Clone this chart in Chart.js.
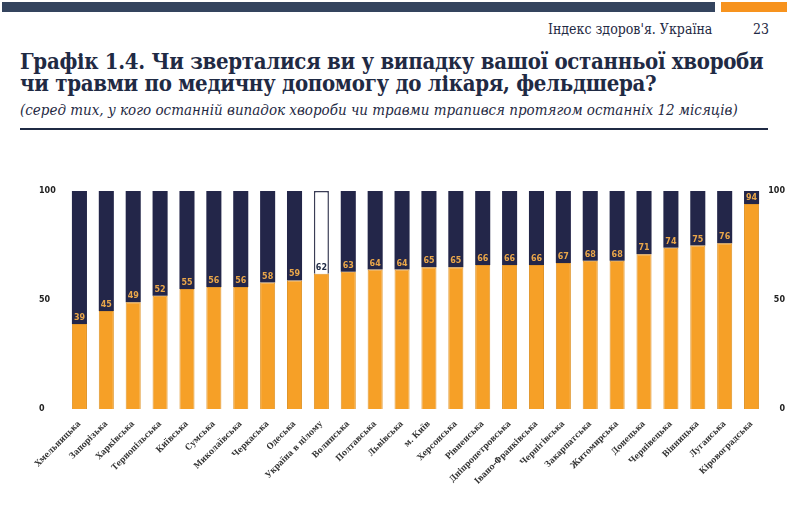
<!DOCTYPE html>
<html lang="uk">
<head>
<meta charset="UTF-8">
<title>Графік 1.4</title>
<script src="https://cdn.jsdelivr.net/npm/chart.js"></script>
<style>
  body { margin: 0; width: 800px; height: 508px; background: #fff; position: relative; overflow: hidden; font-family: "Liberation Serif", serif; }
  .barDark { position: absolute; left: 2px; top: 2px; width: 713px; height: 10px; background: #34445e; }
  .barOrange { position: absolute; left: 721px; top: 2px; width: 66px; height: 10px; background: #f7931e; }
  .hdr { position: absolute; top: 21px; left: 548px; font-size: 14px; color: #1f2a44; font-family: "DejaVu Serif Condensed", "DejaVu Serif", serif; }
  .page { position: absolute; top: 21px; left: 753px; font-size: 14px; color: #1f2a44; font-family: "DejaVu Serif Condensed", "DejaVu Serif", serif; }
  h1 { position: absolute; top: 50px; left: 20px; margin: 0; font-size: 22px; line-height: 22px; color: #1f2a44; font-family: "DejaVu Serif Condensed", "DejaVu Serif", serif; font-weight: bold; letter-spacing: -0.3px; }
  .sub { position: absolute; top: 101px; left: 20px; font-size: 15px; font-style: italic; color: #1f2a44; font-family: "DejaVu Serif Condensed", "DejaVu Serif", serif; }
  .rule { position: absolute; top: 128px; left: 20px; width: 748px; height: 2px; background: #1f2a44; }
  #wrap { position: absolute; left: 0; top: 180px; width: 800px; height: 328px; }
</style>
</head>
<body>
<div class="barDark"></div>
<div class="barOrange"></div>
<div class="hdr">Індекс здоров'я. Україна</div>
<div class="page">23</div>
<h1>Графік 1.4. Чи зверталися ви у випадку вашої останньої хвороби<br>чи травми по медичну допомогу до лікаря, фельдшера?</h1>
<div class="sub">(серед тих, у кого останній випадок хвороби чи травми трапився протягом останніх 12 місяців)</div>
<div class="rule"></div>
<div id="wrap"><canvas id="chart"></canvas></div>

<script>
  let regions = ['Хмельницька', 'Запорізька', 'Харківська', 'Тернопільська', 'Київська', 'Сумська',
    'Миколаївська', 'Черкаська', 'Одеська', 'Україна в цілому', 'Волинська', 'Полтавська', 'Львівська',
    'м. Київ', 'Херсонська', 'Рівненська', 'Дніпропетровська', 'Івано-Франківська', 'Чернігівська',
    'Закарпатська', 'Житомирська', 'Донецька', 'Чернівецька', 'Вінницька', 'Луганська', 'Кіровоградська'];
  let yes = [39, 45, 49, 52, 55, 56, 56, 58, 59, 62, 63, 64, 64, 65, 65, 66, 66, 66, 67, 68, 68, 71, 74, 75, 76, 94];
  let rest = [61, 55, 51, 48, 45, 44, 44, 42, 41, 38, 37, 36, 36, 35, 35, 34, 34, 34, 33, 32, 32, 29, 26, 25, 24, 6];
  let yTicks = [0, 50, 100];
  let totalIndex = regions.indexOf('Україна в цілому');

  let navy = '#232649';
  let orange = '#f6a027';

  let valueLabels = {
    id: 'valueLabels',
    afterDatasetsDraw(chart) {
      let ctx = chart.ctx;
      let meta = chart.getDatasetMeta(0);
      ctx.save();
      ctx.font = 'bold 8px "DejaVu Sans"';
      ctx.textAlign = 'center';
      ctx.textBaseline = 'bottom';
      meta.data.forEach(function(bar, i) {
        ctx.fillStyle = i === totalIndex ? '#1f2a44' : '#e9a64a';
        ctx.fillText(yes[i], bar.x, bar.y - 2);
      });
      ctx.restore();
    }
  };

  let tickFont = { family: 'DejaVu Sans', size: 8, weight: 'bold' };

  new Chart(document.getElementById('chart'), {
    type: 'bar',
    data: {
      labels: regions,
      datasets: [{
        data: yes,
        backgroundColor: orange,
        borderColor: '#e0952a',
        borderWidth: 1,
        barPercentage: 0.56,
        categoryPercentage: 1
      }, {
        data: rest,
        backgroundColor: regions.map((r, i) => i === totalIndex ? '#ffffff' : navy),
        borderColor: regions.map((r, i) => i === totalIndex ? '#3a3d55' : navy),
        borderWidth: regions.map((r, i) => i === totalIndex ? 1.5 : 0),
        barPercentage: 0.56,
        categoryPercentage: 1
      }]
    },
    options: {
      responsive: true,
      maintainAspectRatio: false,
      animation: false,
      layout: { padding: { left: 39, right: 15, top: 11, bottom: 0 } },
      plugins: { legend: { display: false }, tooltip: { enabled: false } },
      scales: {
        x: {
          stacked: true,
          grid: { display: false },
          border: { display: false },
          ticks: { color: '#333', font: { family: 'DejaVu Serif Condensed', size: 8.5, weight: 'bold' }, minRotation: 45, maxRotation: 45, autoSkip: false, padding: 2 },
          afterFit(s) { s.height = 99; }
        },
        y: {
          stacked: true,
          min: 0, max: 100,
          position: 'left',
          grid: { display: false },
          border: { display: false },
          afterBuildTicks(s) { s.ticks = yTicks.map(v => ({ value: v })); },
          ticks: { color: '#222', font: tickFont, crossAlign: 'far' },
          afterFit(s) { s.width = 27; }
        },
        y2: {
          min: 0, max: 100,
          position: 'right',
          grid: { display: false },
          border: { display: false },
          afterBuildTicks(s) { s.ticks = yTicks.map(v => ({ value: v })); },
          ticks: { color: '#222', font: tickFont, crossAlign: 'far' },
          afterFit(s) { s.width = 20; }
        }
      }
    },
    plugins: [valueLabels]
  });
</script>
</body>
</html>
